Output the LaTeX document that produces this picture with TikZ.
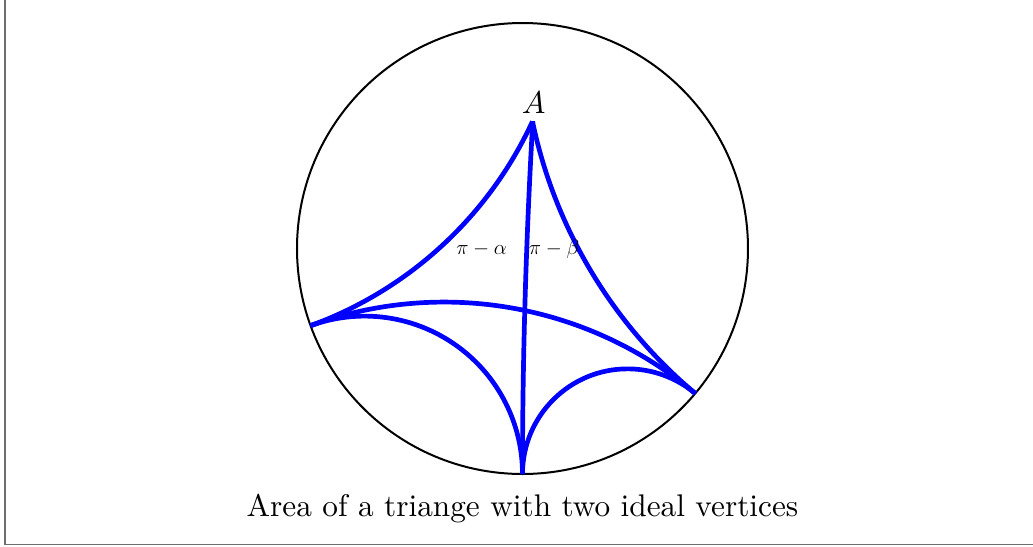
\documentclass[tikz,border=0pt]{standalone}
\usepackage{tikz}
\usepackage{graphicx}
\begin{document}
\begin{tikzpicture}[x=225.5pt,y=225.5pt,
  rim/.style={black, line width=2pt},
  geo/.style={blue, line width=4.7pt},
  framepen/.style={draw={rgb,255:red,110;green,110;blue,110}, line width=1.5pt},
  biglbl/.style={inner sep=0pt, anchor=base},
  smalllbl/.style={inner sep=0pt, anchor=base, font=\fontsize{20}{24}\selectfont}]
\useasboundingbox (-2.3171,-1.3193) rectangle (2.2639,1.1020);
% partial frame
\coordinate (F1) at (-2.2949,1.1020);
\coordinate (F2) at (-2.2949,-1.3126);
\coordinate (F3) at (2.2639,-1.3126);
\draw[framepen] (F1) -- (F2) -- (F3);
% disk
\coordinate (O) at (0,0);
\draw[rim] (O) circle[radius=1];
% vertices
\coordinate (P) at (200:1);
\coordinate (Q) at (270:1);
\coordinate (R) at (320:1);
\coordinate (A) at (0.0443,0.5632);
% geodesics
\draw[geo] (P) arc[start angle=-70, end angle=-24.78, radius=1.73866];
\draw[geo] (R) arc[start angle=230, end angle=191.80, radius=2.14751];
\draw[geo] (Q) arc[start angle=180, end angle=176.75, radius=27.60];
\draw[geo] (P) arc[start angle=110, end angle=50, radius=1.73205];
\draw[geo] (P) arc[start angle=110, end angle=0, radius=0.70021];
\draw[geo] (Q) arc[start angle=180, end angle=50, radius=0.46631];
% labels
\node[biglbl] (labA) at (0.0501,0.5996) {\scalebox{3.15}{$A$}};
\node[smalllbl] (laba) at (-0.1809,-0.0244) {$\pi-\alpha$};
\node[smalllbl] (labb) at (0.1397,-0.0244) {$\pi-\beta$};
\node[biglbl] (cap) at (0,-1.1863) {\scalebox{3.13}{Area of a triange with two ideal vertices}};
\end{tikzpicture}
\end{document}
